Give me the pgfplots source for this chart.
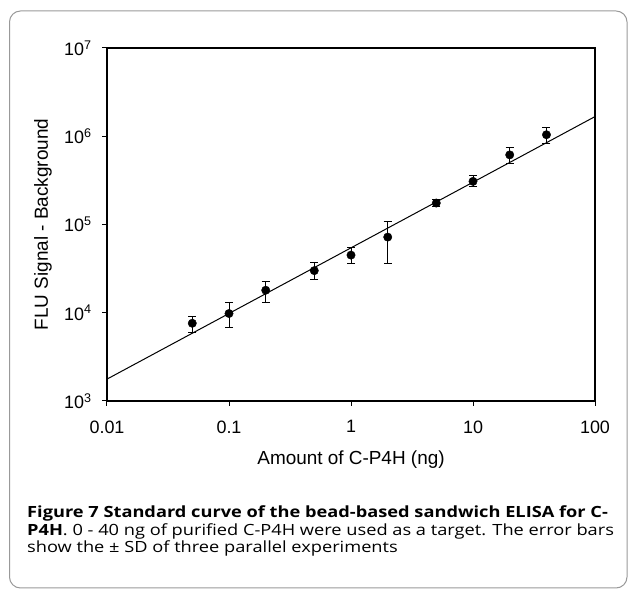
\documentclass[border=0pt]{standalone}
\usepackage{fontspec}
\setmainfont{Liberation Sans}
\newfontfamily\capfont{Open Sans}[FakeStretch=1.18]
\usepackage{pgfplots}
\usepackage{pgfplotstable}
\pgfplotsset{compat=1.18}

% x, y, error above, error below
\pgfplotstableread{
x     y        ep      em
0.05  7600     1400    1550
0.1   9800     3200    3000
0.2   18000    4700    4800
0.5   30000    6900    6300
1     45000    9600    9000
2     72000    36000   36000
5     175000   16000   14000
10    308000   53000   41000
20    615000   121000  130000
40    1040000  220000  202000
}\datatable

\begin{document}
\begin{tikzpicture}[x=1bp,y=1bp]
\useasboundingbox (0,0) rectangle (628,591);
\draw[black!40, line width=1bp, rounded corners=11bp] (9.5,3) rectangle (627,580);

\begin{axis}[
    at={(107bp,190bp)}, anchor=south west,
    scale only axis, width=488bp, height=353bp,
    xmode=log, ymode=log,
    xmin=0.01, xmax=100, ymin=1e3, ymax=1e7,
    xtick={0.01,0.1,1,10,100},
    xticklabels={0.01,0.1,1,10,100},
    ytick={1e3,1e4,1e5,1e6,1e7},
    yticklabels={10\textsuperscript{3},10\textsuperscript{4},10\textsuperscript{5},10\textsuperscript{6},10\textsuperscript{7}},
    xminorticks=false, yminorticks=false,
    tick pos=left, tick align=outside, major tick length=5bp,
    every tick/.style={black, line width=1bp},
    axis line style={line width=1.2bp},
    tick label style={font=\fontsize{18}{21}\selectfont},
    xticklabel style={yshift=-11bp},
    yticklabel style={xshift=-7bp},
    label style={font=\fontsize{19}{22}\selectfont},
    xlabel={Amount of C-P4H (ng)},
    ylabel={FLU Signal - Background},
    xlabel style={at={(axis description cs:0.5,0)}, anchor=center, yshift=-59bp},
    ylabel style={at={(axis description cs:0,0.5)}, anchor=center, yshift=64bp},
]
\addplot[black, line width=1bp] coordinates {(0.01,1770) (100,1.67e6)};
\addplot[black, only marks, mark=*, mark size=4.2bp, mark options={fill=black},
    error bars/.cd, y dir=both, y explicit,
    error bar style={line width=1bp, black},
    error mark options={rotate=90, mark size=4bp, line width=1bp, black}]
    table[x=x, y=y, y error plus=ep, y error minus=em] \datatable;
\end{axis}

\begin{scope}[every node/.style={anchor=base west, inner sep=0pt}]
\node at (27,73) {\capfont\fontsize{15.5}{17}\selectfont\bfseries Figure 7 Standard curve of the bead-based sandwich ELISA for C-};
\node at (27,55) {\capfont\fontsize{15.5}{17}\selectfont\textbf{P4H}. 0 - 40 ng of purified C-P4H were used as a target. The error bars};
\node at (27,38) {\capfont\fontsize{15.5}{17}\selectfont show the ± SD of three parallel experiments};
\end{scope}
\end{tikzpicture}
\end{document}
